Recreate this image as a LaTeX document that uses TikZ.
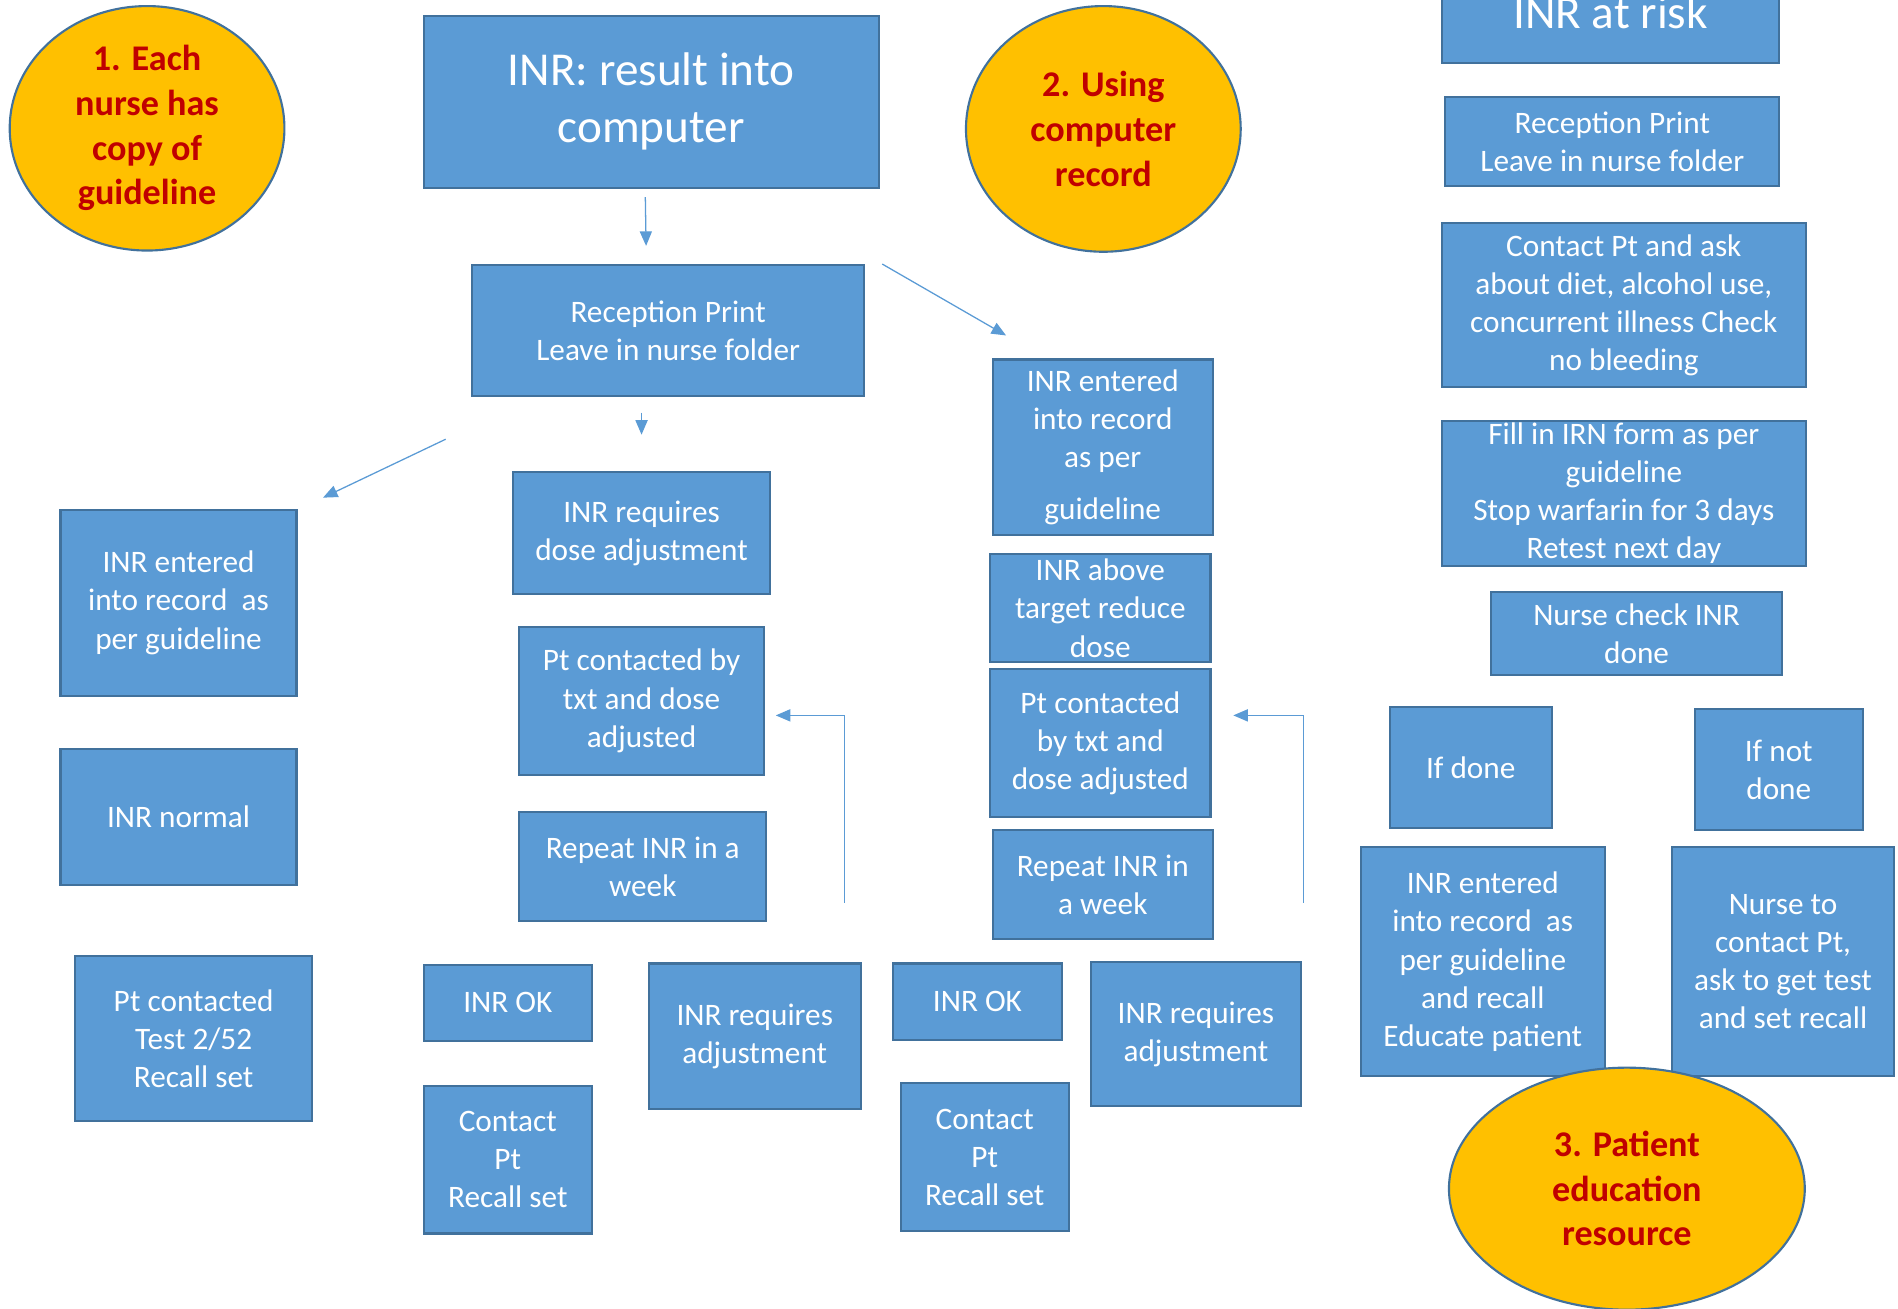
\documentclass[tikz,border=0pt]{standalone}
\usepackage{fontspec}
\setmainfont{Carlito}
\usetikzlibrary{shapes.geometric, arrows.meta}
\definecolor{boxfill}{HTML}{5B9BD5}
\definecolor{boxline}{HTML}{41719C}
\definecolor{gold}{HTML}{FFC000}
\definecolor{darkred}{HTML}{C00000}
\newcommand{\txt}{\fontsize{14.7}{17.9}\selectfont}
\newcommand{\bigtxt}{\fontsize{22.2}{26.7}\selectfont}
\newcommand{\blobtxt}{\bfseries\fontsize{17}{21}\selectfont}

\begin{document}
\begin{tikzpicture}[x=0.02cm, y=-0.02cm,
    box/.style={draw=boxline, fill=boxfill, text=white, line width=1pt, align=center, inner sep=1pt, font=\txt},
    blob/.style={ellipse, draw=boxline, fill=gold, text=darkred, line width=1pt, align=center, inner sep=0pt, font=\blobtxt},
    arr/.style={draw=boxfill, line width=0.6pt, -{Triangle[length=0.24cm, width=0.2cm]}}]
  \clip (0,0) rectangle (1568,1081);

  \node[blob, minimum width=4.54cm, minimum height=4.04cm] (g1) at (121.5,106) {1. Each\\nurse has\\copy of\\guideline};
  \node[blob, minimum width=4.54cm, minimum height=4.06cm] (g2) at (911.5,106.5) {2. Using\\computer\\record};

  % left branch
  \node[box, font=\bigtxt, minimum width=7.52cm, minimum height=2.84cm] (inr) at (538,84) {INR: result into\\computer};
  \node[box, minimum width=6.48cm, minimum height=2.16cm] (print) at (552,273) {Reception Print\\Leave in nurse folder};
  \node[box, minimum width=3.9cm, minimum height=3.08cm] (entl) at (147.5,498) {INR entered\\into record~ as\\per guideline};
  \node[box, minimum width=3.9cm, minimum height=2.24cm] (normal) at (147.5,675) {INR normal};
  \node[box, minimum width=3.92cm, minimum height=2.72cm] (testl) at (160,858) {Pt contacted\\Test 2/52\\Recall set};

  \node[box, minimum width=4.24cm, minimum height=2.02cm] (dose) at (530,440.5) {INR requires\\dose adjustment};
  \node[box, minimum width=4.04cm, minimum height=2.44cm] (txtl) at (530,579) {Pt contacted by\\txt and dose\\adjusted};
  \node[box, minimum width=4.08cm, minimum height=1.8cm] (repl) at (531,716) {Repeat INR in a\\week};
  \node[box, minimum width=2.78cm, minimum height=1.26cm] (okl) at (419.5,828.5) {INR OK};
  \node[box, minimum width=2.78cm, minimum height=2.44cm] (contl) at (419.5,958) {Contact\\Pt\\Recall set};
  \node[box, minimum width=3.5cm, minimum height=2.4cm] (adjl) at (623.5,856) {INR requires\\adjustment};

  % middle branch
  \node[box, minimum width=3.64cm, minimum height=2.9cm] (entm) at (911,369.5) {INR entered\\into record\\as per\\[0.22cm]guideline};
  \node[box, minimum width=3.64cm, minimum height=1.78cm] (above) at (909,502.5) {INR above\\target reduce\\dose};
  \node[box, minimum width=3.64cm, minimum height=2.44cm] (txtm) at (909,614) {Pt contacted\\by txt and\\dose adjusted};
  \node[box, minimum width=3.64cm, minimum height=1.8cm] (repm) at (911,731) {Repeat INR in\\a week};
  \node[box, minimum width=2.78cm, minimum height=1.26cm] (okm) at (807.5,827.5) {INR OK};
  \node[box, minimum width=2.78cm, minimum height=2.44cm] (contm) at (813.5,956) {Contact\\Pt\\Recall set};
  \node[box, minimum width=3.48cm, minimum height=2.38cm] (adjm) at (988,854.5) {INR requires\\adjustment};

  % right column
  \node[box, font=\bigtxt, minimum width=5.58cm, minimum height=1.68cm] (risk) at (1330.5,10) {INR at risk};
  \node[box, minimum width=5.52cm, minimum height=1.48cm] (printr) at (1332,117) {Reception Print\\Leave in nurse folder};
  \node[box, minimum width=6.02cm, minimum height=2.72cm] (ask) at (1341.5,252) {Contact Pt and ask\\about diet, alcohol use,\\concurrent illness Check\\no bleeding};
  \node[box, minimum width=6.02cm, minimum height=2.38cm] (form) at (1341.5,407.5) {Fill in IRN form as per\\guideline\\Stop warfarin for 3 days\\Retest next day};
  \node[box, minimum width=4.8cm, minimum height=1.38cm] (check) at (1352,523.5) {Nurse check INR\\done};
  \node[box, minimum width=2.68cm, minimum height=2cm] (done) at (1215,634) {If done};
  \node[box, minimum width=2.78cm, minimum height=2cm] (notdone) at (1469.5,636) {If not\\done};
  \node[box, minimum width=4.04cm, minimum height=3.78cm] (entr) at (1225,794.5) {INR entered\\into record~ as\\per guideline\\and recall\\Educate patient};
  \node[box, minimum width=3.68cm, minimum height=3.78cm] (nurse) at (1473,794.5) {Nurse to\\contact Pt,\\ask to get test\\and set recall};
  \node[blob, minimum width=5.88cm, minimum height=4cm] (g3) at (1344,982) {3. Patient\\education\\resource};

  \draw[arr, shorten <=0.14cm, shorten >=0.3cm] ([xshift=-0.1cm]inr.south) -- ([xshift=-0.36cm]print.north);
  \draw[arr] ([shift={(14,0)}]print.north east) -- ([shift={(12,-19)}]entm.north west);
  \draw[arr, shorten <=0.26cm, shorten >=0.6cm] (dose.north |- print.south) -- (dose.north);
  \draw[arr] ([shift={(-21,35)}]print.south west) -- ([shift={(21,-9)}]entl.north east);
  \draw[arr] ([shift={(64,-16)}]repl.south east) |- ([shift={(9,12)}]txtl.east);
  \draw[arr] ([shift={(74,-31)}]repm.south east) |- ([shift={(18,-23)}]txtm.east);
\end{tikzpicture}
\end{document}
